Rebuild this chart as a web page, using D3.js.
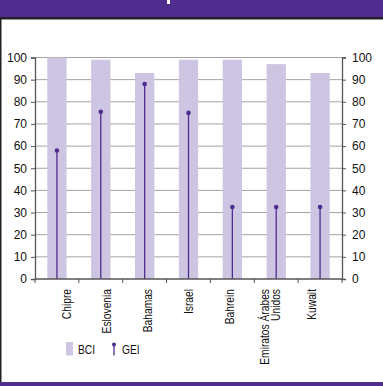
<!DOCTYPE html>
<html>
<head>
<meta charset="utf-8">
<script src="https://cdn.jsdelivr.net/npm/d3@7"></script>
<style>
  body { margin: 0; background: #fff; }
  text { font-family: "Liberation Sans", Arial, sans-serif; }
</style>
</head>
<body>
<div id="chart"></div>
<script>
// data
var countries = ["Chipre", "Eslovenia", "Bahamas", "Israel", "Bahrein", "Emiratos Árabes|Unidos", "Kuwait"];
var bci = [100, 99, 93, 99, 99, 97, 93];
var gei = [58, 75.5, 88, 75, 32.5, 32.5, 32.5];
var yTicks = [0, 10, 20, 30, 40, 50, 60, 70, 80, 90, 100];

var W = 383, H = 386;
var margin = {top: 57.5, right: 41, bottom: 107, left: 35};
var width = W - margin.left - margin.right,
    height = H - margin.top - margin.bottom;

var purple = "#4f2d8f";
var narrow = 0.82; // squeeze text along its run to look like a narrow face

var svg = d3.select("#chart").append("svg")
  .attr("width", W)
  .attr("height", H);

// header band + frame
svg.append("rect").attr("x", 0).attr("y", 0).attr("width", W).attr("height", 17).attr("fill", purple);
svg.append("rect").attr("x", 0).attr("y", 17).attr("width", W).attr("height", 2.5).attr("fill", "#222");
// bit of the cropped title glyph
svg.append("rect").attr("x", 167).attr("y", 0).attr("width", 3).attr("height", 4).attr("fill", "#fff");
svg.append("rect").attr("x", 0).attr("y", 19).attr("width", 1.5).attr("height", H - 19).attr("fill", "#222");
svg.append("rect").attr("x", 0).attr("y", 382).attr("width", W).attr("height", 4).attr("fill", purple);

var g = svg.append("g")
  .attr("transform", "translate(" + margin.left + "," + margin.top + ")");

var x = d3.scaleBand()
  .domain(countries)
  .range([0, width])
  .paddingInner(0.56)
  .paddingOuter(0.28);

var y = d3.scaleLinear()
  .domain([0, 100])
  .range([height, 0]);

// labels sit on their own evenly spread positions, like the original
var xl = d3.scalePoint()
  .domain(countries)
  .range([31, 276]);

// grid
g.selectAll(".grid").data(yTicks.slice(1)).enter().append("line")
  .attr("x1", 0).attr("x2", width)
  .attr("y1", function(d) { return y(d); })
  .attr("y2", function(d) { return y(d); })
  .attr("stroke", "#a3a3a3").attr("stroke-width", 1);

// BCI bars
g.selectAll(".bar").data(countries).enter().append("rect")
  .attr("x", function(d) { return x(d); })
  .attr("width", x.bandwidth())
  .attr("y", function(d, i) { return y(bci[i]); })
  .attr("height", function(d, i) { return height - y(bci[i]); })
  .attr("fill", "#cdc5e1");

// GEI stems
g.selectAll(".stem").data(countries).enter().append("line")
  .attr("x1", function(d) { return x(d) + x.bandwidth() / 2; })
  .attr("x2", function(d) { return x(d) + x.bandwidth() / 2; })
  .attr("y1", height)
  .attr("y2", function(d, i) { return y(gei[i]); })
  .attr("stroke", purple).attr("stroke-width", 1.3);
g.selectAll(".dot").data(countries).enter().append("circle")
  .attr("cx", function(d) { return x(d) + x.bandwidth() / 2; })
  .attr("cy", function(d, i) { return y(gei[i]); })
  .attr("r", 2.3)
  .attr("fill", purple);

// axes
var axColor = "#555";
var yl = g.append("g").call(d3.axisLeft(y).tickValues(yTicks).tickSize(4).tickPadding(4));
var yr = g.append("g").attr("transform", "translate(" + width + ",0)")
  .call(d3.axisRight(y).tickValues(yTicks).tickSize(4).tickPadding(6));
[yl, yr].forEach(function(a) {
  a.select(".domain").attr("stroke", axColor).attr("stroke-width", 1.3);
  a.selectAll(".tick line").attr("stroke", axColor);
  a.selectAll("text").attr("fill", "#111").style("font-size", "12px");
});

// bottom axis with ticks at category boundaries
var bx = g.append("g").attr("transform", "translate(0," + height + ")");
bx.append("line").attr("x1", 0).attr("x2", width).attr("stroke", axColor).attr("stroke-width", 1.5);
var bounds = countries.map(function(d) { return x(d) - x.step() * x.paddingInner() / 2; }).concat([width]);
bx.selectAll(".bt").data(bounds).enter().append("line")
  .attr("x1", function(d) { return d; }).attr("x2", function(d) { return d; })
  .attr("y1", 0).attr("y2", 4)
  .attr("stroke", axColor);

var labels = bx.selectAll(".lab").data(countries).enter().append("text")
  .attr("transform", function(d) { return "translate(" + xl(d) + ",10) rotate(-90) scale(" + narrow + ",1)"; })
  .attr("text-anchor", "end")
  .attr("fill", "#111")
  .style("font-size", "12.5px");
labels.each(function(d) {
  var parts = d.split("|");
  var t = d3.select(this);
  parts.forEach(function(p, i) {
    t.append("tspan")
      .attr("x", 0)
      .attr("dy", i === 0 ? (parts.length > 1 ? -1.5 : 4.5) : 11.5)
      .text(p);
  });
});

// legend
var lg = svg.append("g").attr("transform", "translate(66,342)");
lg.append("rect").attr("width", 7).attr("height", 13.5).attr("fill", "#cdc5e1");
lg.append("text").attr("transform", "translate(12,12) scale(" + narrow + ",1)")
  .attr("fill", "#111").style("font-size", "12.5px").text("BCI");
lg.append("line").attr("x1", 48).attr("x2", 48).attr("y1", 2).attr("y2", 13.5).attr("stroke", purple).attr("stroke-width", 1.3);
lg.append("circle").attr("cx", 48).attr("cy", 2.5).attr("r", 2).attr("fill", purple);
lg.append("text").attr("transform", "translate(56,12) scale(" + narrow + ",1)")
  .attr("fill", "#111").style("font-size", "12.5px").text("GEI");
</script>
</body>
</html>
